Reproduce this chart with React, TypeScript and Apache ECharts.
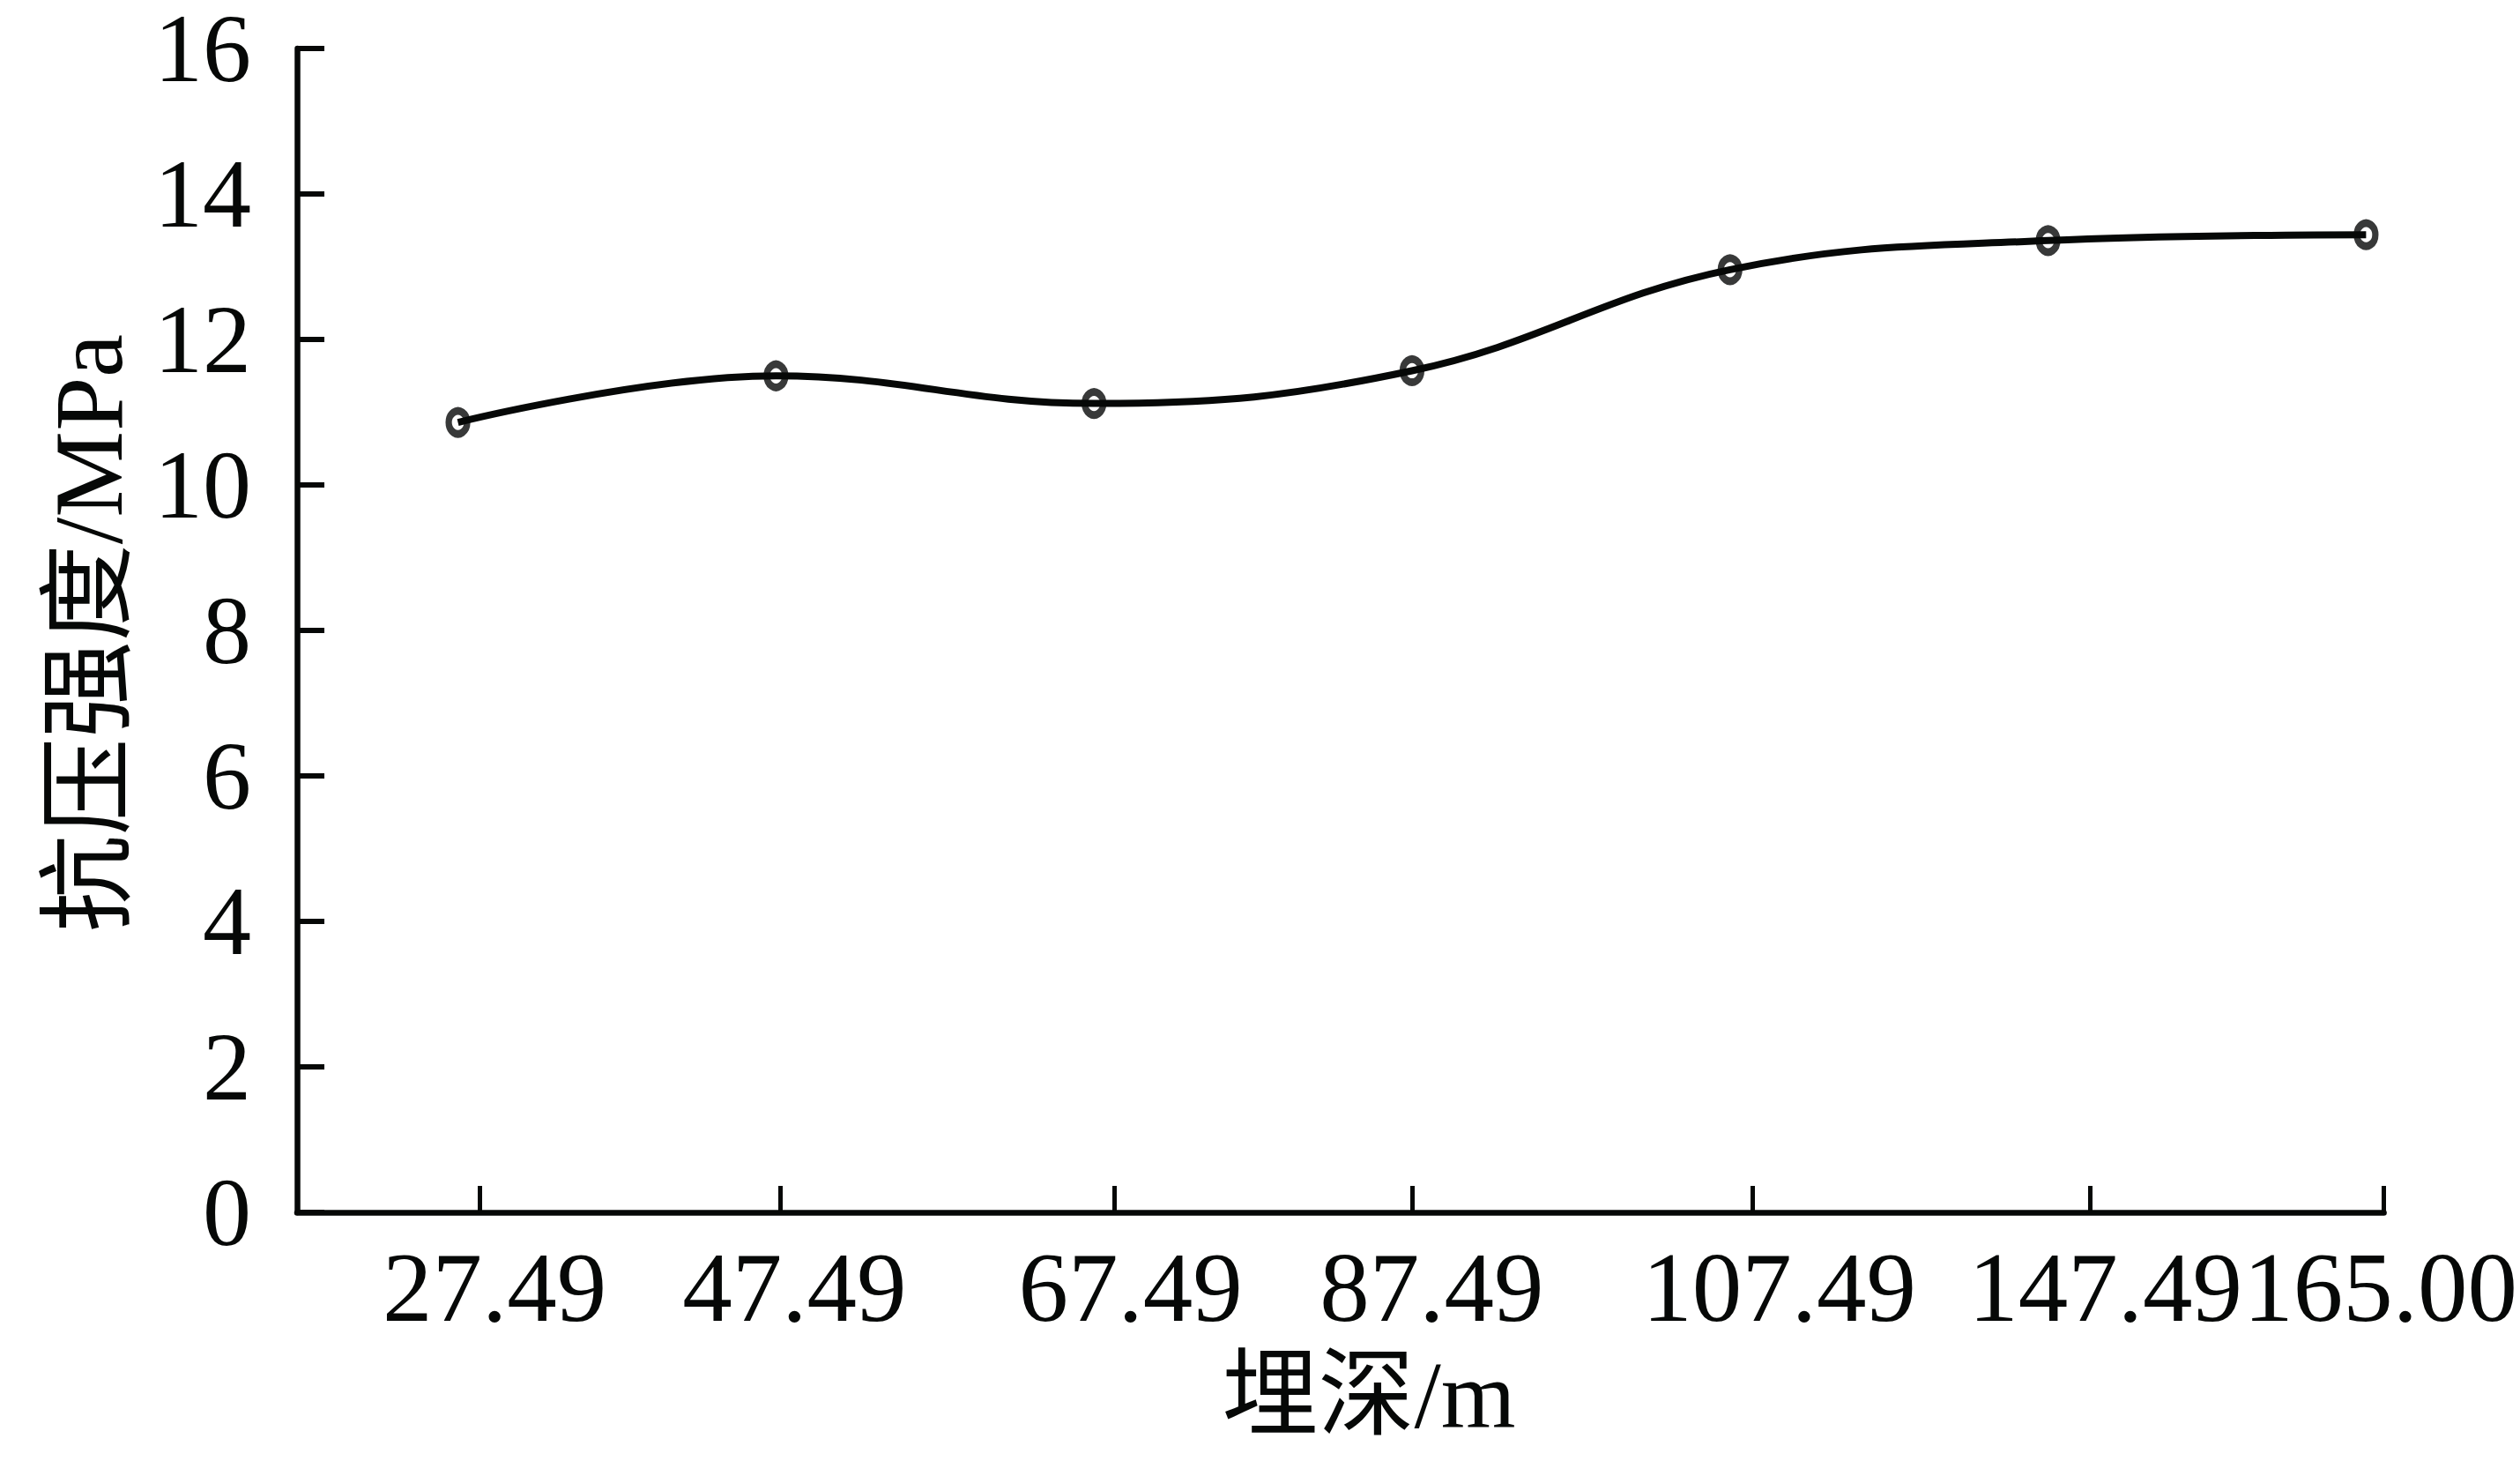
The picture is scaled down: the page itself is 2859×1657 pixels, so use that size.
import React, { useEffect, useRef } from "react";
import * as echarts from "echarts";

// Depth categories (tick labels of the x axis)
const depthLabels = ["27.49", "47.49", "67.49", "87.49", "107.49", "147.49", "165.00"];
// Compressive strength (MPa) at each measuring point
const strength = [10.86, 11.5, 11.12, 11.57, 12.96, 13.36, 13.44];
// Position of each measuring point along the x axis (evenly spaced)
const pointIndex = [0, 1, 2, 3, 4, 5, 6];
// Position of each x tick along the same axis
const tickValues = [0.069, 1.014, 2.065, 3.002, 4.071, 5.133, 6.056];
// Position of each x label along the same axis
const labelValues = [0.115, 1.058, 2.115, 3.062, 4.155, 5.18, 6.045];
const xMin = -0.506;
const xMax = 6.056;
const yTicks = [0, 2, 4, 6, 8, 10, 12, 14, 16];

const FONT = "'Liberation Serif', 'Times New Roman', 'Noto Sans CJK SC', serif";
const INK = "#060807";

export default function App() {
  const ref = useRef<HTMLDivElement>(null);
  useEffect(() => {
    document.body.style.margin = "0";
    const chart = echarts.init(ref.current!, null, { renderer: "svg" });
    const labelFor = (v: number) => {
      let best = 0;
      let bd = Infinity;
      labelValues.forEach((t, i) => {
        const d = Math.abs(t - v);
        if (d < bd) {
          bd = d;
          best = i;
        }
      });
      return depthLabels[best];
    };
    const points = pointIndex.map((x, i) => [x, strength[i]]);
    chart.setOption({
      animation: false,
      backgroundColor: "#ffffff",
      grid: { left: 337, right: 148, top: 44, bottom: 282, containLabel: false },
      xAxis: {
        type: "value",
        min: xMin,
        max: xMax,
        splitLine: { show: false },
        axisLine: { show: true, onZero: false, lineStyle: { color: INK, width: 6.5 } },
        axisTick: {
          show: true,
          inside: true,
          length: 30,
          customValues: tickValues,
          lineStyle: { color: INK, width: 5 },
        },
        axisLabel: {
          show: true,
          customValues: labelValues,
          formatter: (v: number) => labelFor(v),
          fontFamily: FONT,
          fontSize: 113,
          color: INK,
          margin: 28,
        },
      },
      yAxis: {
        type: "value",
        min: 0,
        max: 16,
        interval: 2,
        splitLine: { show: false },
        axisLine: { show: true, onZero: false, lineStyle: { color: INK, width: 6.5 } },
        axisTick: { show: true, inside: true, length: 31, lineStyle: { color: INK, width: 6 } },
        axisLabel: {
          fontFamily: FONT,
          fontSize: 110,
          lineHeight: 84,
          color: INK,
          margin: 52,
          formatter: (v: number) => (yTicks.includes(v) ? String(v) : ""),
        },
      },
      graphic: [
        {
          type: "text",
          x: 101,
          y: 718,
          rotation: Math.PI / 2,
          style: {
            text: "抗压强度/MPa",
            fontFamily: FONT,
            fontSize: 110,
            fill: INK,
            align: "center",
            verticalAlign: "middle",
          },
        },
        {
          type: "text",
          x: 1553,
          y: 1582,
          style: {
            text: "埋深/m",
            fontFamily: FONT,
            fontSize: 109,
            fill: INK,
            align: "center",
            verticalAlign: "middle",
          },
        },
      ],
      series: [
        {
          name: "markers",
          type: "scatter",
          data: points,
          symbol: "circle",
          symbolSize: [21, 26],
          itemStyle: { color: "#ffffff", borderColor: INK, borderWidth: 8 },
          z: 2,
        },
        {
          name: "curve",
          type: "line",
          data: points,
          smooth: 0.4,
          symbol: "none",
          lineStyle: { color: INK, width: 8 },
          z: 3,
        },
      ],
    });
    return () => chart.dispose();
  }, []);
  return <div ref={ref} style={{ width: 2859, height: 1657 }} />;
}
